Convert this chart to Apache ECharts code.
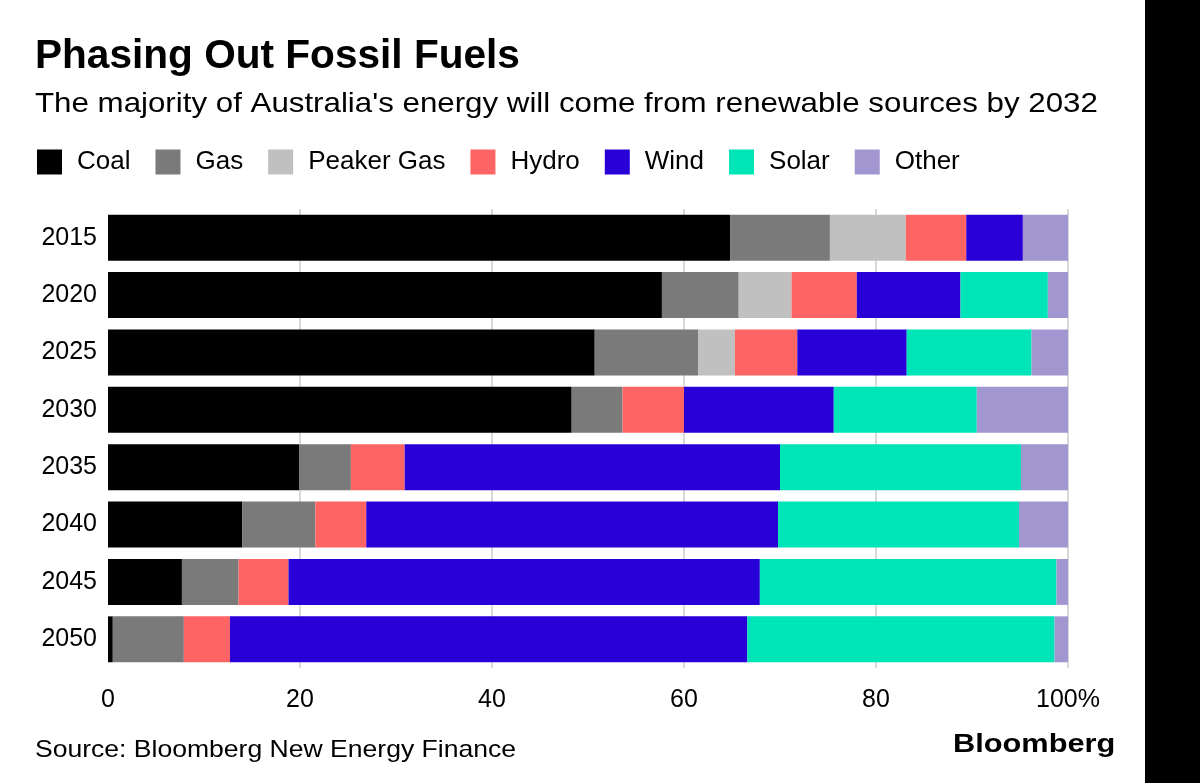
<!DOCTYPE html>
<html>
<head>
<meta charset="utf-8">
<script src="https://cdn.jsdelivr.net/npm/echarts@6/dist/echarts.min.js"></script>
<style>
html,body{margin:0;padding:0;background:#fff;}
#chart{width:1200px;height:783px;}
</style>
</head>
<body>
<div id="chart"></div>
<script>
const years = ['2015','2020','2025','2030','2035','2040','2045','2050'];
const coal   = [64.8, 57.7, 50.7, 48.3, 19.9, 14.0, 7.7, 0.5];
const gas    = [10.4, 8.0, 10.8, 5.3, 5.4, 7.6, 5.9, 7.4];
const peaker = [7.9, 5.5, 3.8, 0, 0, 0, 0, 0];
const hydro  = [6.3, 6.8, 6.5, 6.4, 5.6, 5.3, 5.2, 4.8];
const wind   = [5.9, 10.8, 11.4, 15.6, 39.1, 42.9, 49.1, 53.9];
const solar  = [0, 9.1, 13.0, 14.9, 25.1, 25.1, 30.9, 32.0];
const other  = [4.7, 2.1, 3.8, 9.5, 4.9, 5.1, 1.2, 1.4];
const xTicks = [0, 20, 40, 60, 80, 100];

const seriesDefs = [
  {name:'Coal', data:coal, color:'#000000'},
  {name:'Gas', data:gas, color:'#7a7a7a'},
  {name:'Peaker Gas', data:peaker, color:'#c0c0c0'},
  {name:'Hydro', data:hydro, color:'#ff6464'},
  {name:'Wind', data:wind, color:'#2800d7'},
  {name:'Solar', data:solar, color:'#00e5b8'},
  {name:'Other', data:other, color:'#a196d0'}
];

const FONT = "'Liberation Sans', Arial, Helvetica, sans-serif";
const chart = echarts.init(document.getElementById('chart'), null, {renderer:'canvas'});

chart.setOption({
  backgroundColor:'#ffffff',
  animation:false,
  textStyle:{fontFamily:FONT, color:'#000'},
  graphic:[
    {type:'text', x:35, y:36, scaleX:0.99, style:{text:'Phasing Out Fossil Fuels', x:0, y:0, fill:'#000', font:"bold 41px " + FONT, verticalAlign:'top'}},
    {type:'text', x:35, y:90, scaleX:1.117, style:{text:"The majority of Australia's energy will come from renewable sources by 2032", x:0, y:0, fill:'#000', font:"28px " + FONT, verticalAlign:'top'}},
    {type:'text', x:35, y:738, scaleX:1.106, style:{text:'Source: Bloomberg New Energy Finance', x:0, y:0, fill:'#000', font:"24px " + FONT, verticalAlign:'top'}},
    {type:'text', x:953, y:733, scaleX:1.23, style:{text:'Bloomberg', x:0, y:0, fill:'#000', font:"bold 25px " + FONT, verticalAlign:'top'}},
    {type:'rect', shape:{x:1145, y:0, width:55, height:783}, style:{fill:'#000'}}
  ],
  legend:{
    left:32, top:144,
    icon:'rect', itemWidth:25, itemHeight:25, itemGap:25,
    textStyle:{fontSize:26, color:'#000', fontFamily:FONT, padding:[0,0,0,10]},
    data: seriesDefs.map(s => s.name)
  },
  grid:{left:108, right:132, top:209, height:459, containLabel:false},
  xAxis:{
    type:'value', min:0, max:100, interval:20,
    axisLine:{show:false}, axisTick:{show:false},
    axisLabel:{fontSize:25, color:'#000', margin:20, fontFamily:FONT,
      formatter: v => (v === 100 ? '100%' : String(v))},
    splitLine:{show:true, lineStyle:{color:['rgba(0,0,0,0)','#d9d9d9','#d9d9d9','#d9d9d9','#d9d9d9','#d9d9d9'], width:2}}
  },
  yAxis:{
    type:'category', data:years, inverse:true,
    axisLine:{show:false}, axisTick:{show:false},
    axisLabel:{fontSize:25, color:'#000', margin:11, fontFamily:FONT}
  },
  series: seriesDefs.map(s => ({
    name:s.name, type:'bar', stack:'total', data:s.data,
    barCategoryGap:'20%',
    itemStyle:{color:s.color},
    emphasis:{disabled:true}
  }))
});
</script>
</body>
</html>
